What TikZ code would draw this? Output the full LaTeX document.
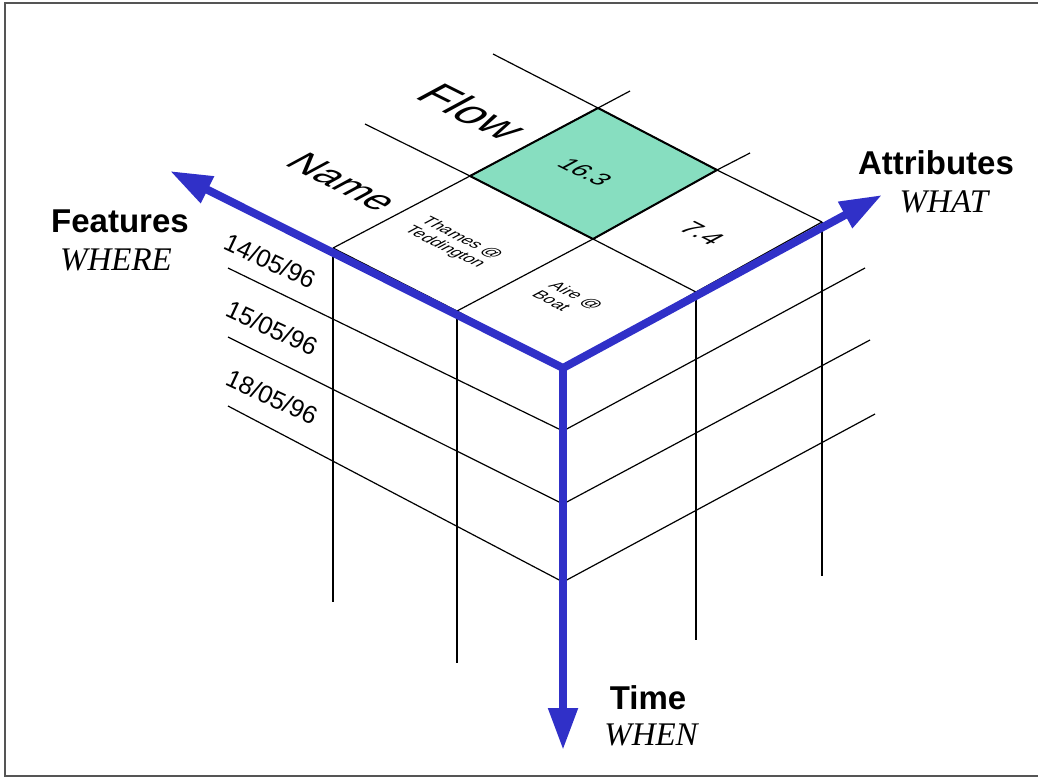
\documentclass[tikz,border=0pt]{standalone}
\usepackage{fontspec}
\setmainfont{Liberation Sans}
\newfontfamily\serifit{Liberation Serif}
\usetikzlibrary{arrows.meta}

\definecolor{axisblue}{RGB}{48,48,200}
\definecolor{cellgreen}{RGB}{135,222,192}
\definecolor{framegray}{RGB}{85,85,85}

\begin{document}
\begin{tikzpicture}[x=1pt,y=-1pt,
  axistip/.tip={Triangle[length=42pt,width=28pt]},
  grid/.style={line width=1.2pt, black},
  cellrim/.style={line width=2pt, black, line join=miter},
  axis/.style={line width=8pt, axisblue, line join=miter},
  head/.style={inner sep=0pt, font=\fontsize{33}{36}\selectfont\bfseries},
  sub/.style={inner sep=0pt, font=\fontsize{33}{36}\selectfont\serifit\itshape},
  date/.style={inner sep=0pt, rotate=-25, font=\fontsize{25}{28}\selectfont},
  plane/.style={inner sep=0pt, align=left, cm={0.894,-0.447,0.880,0.475,(0,0)}},
]
\useasboundingbox (0,0) rectangle (1038,777);

% frame
\draw[framegray, line width=2pt] (1040,3) -- (5,3) -- (5,776) -- (1040,776);

% corner of the cube and the points of the top face
\coordinate (C)   at (563,368);
\coordinate (A1)  at (457,311);
\coordinate (A2)  at (333,248);
\coordinate (B1)  at (696,292);
\coordinate (B2)  at (822,222);
\coordinate (G11) at (593,239);
\coordinate (G21) at (470,176);
\coordinate (G12) at (717,170);
\coordinate (G22) at (598,108);
\coordinate (E1)  at (750,153);
\coordinate (E2)  at (630,91);
\coordinate (F1)  at (365,124);
\coordinate (F2)  at (493,54);

% time rows on the two side faces
\coordinate (T1) at (563,431);
\coordinate (T2) at (563,504);
\coordinate (T3) at (563,582);
\coordinate (L1) at (228,268);
\coordinate (L2) at (228,337);
\coordinate (L3) at (228,406);
\coordinate (R1) at (865,268);
\coordinate (R2) at (870,340);
\coordinate (R3) at (875,414);

% ends of the axes
\coordinate (WL) at (170,171);
\coordinate (WR) at (882,195);
\coordinate (WD) at (563,750);

% shaded value cell
\fill[cellgreen] (G11) -- (G21) -- (G22) -- (G12) -- cycle;

% top face grid
\draw[grid] (A1) -- (G11) -- (G12) -- (E1);
\draw[grid] (A2) -- (G21) -- (G22) -- (E2);
\draw[grid] (B1) -- (G11) -- (G21) -- (F1);
\draw[grid] (B2) -- (G12) -- (G22) -- (F2);
\draw[grid] (C) -- (A1) -- (A2);
\draw[grid] (C) -- (B1) -- (B2);

% vertical edges
\draw[grid] (A2) -- (A2 |- 0,602);
\draw[grid] (A1) -- (A1 |- 0,663);
\draw[grid] (B1) -- (B1 |- 0,640);
\draw[grid] (B2) -- (B2 |- 0,576);

% time rows
\draw[grid] (L1) -- (T1) -- (R1);
\draw[grid] (L2) -- (T2) -- (R2);
\draw[grid] (L3) -- (T3) -- (R3);

% rim of the shaded cell
\draw[cellrim] (G11) -- (G21) -- (G22) -- (G12) -- cycle;

% texts lying in the top face
\node[plane, font=\fontsize{47}{50}\selectfont] (flow) at (473,112) {Flow};
\node[plane, font=\fontsize{40}{44}\selectfont] (name) at (343,182) {Name};
\node[plane, font=\fontsize{25}{28}\selectfont] (v163) at (585,172) {16.3};
\node[plane, font=\fontsize{27}{30}\selectfont] (v74) at (702,233) {7.4};
\node[plane, font=\fontsize{17}{19}\selectfont] (thames) at (453,243) {Thames @\\Teddington};
\node[plane, font=\fontsize{17}{19}\selectfont] (aire) at (568,300) {Aire @\\Boat};

% dates
\node[date] (d1) at (270,261) {14/05/96};
\node[date] (d2) at (272,328) {15/05/96};
\node[date] (d3) at (272,397) {18/05/96};

% axes
\draw[axis, axistip-axistip] (WL) -- (C) -- (WR);
\draw[axis, -axistip] (C) -- (WD);

% axis labels
\node[head] (feat) at (120,221) {Features};
\node[sub]  (where) at (116,260) {WHERE};
\node[head] (attr) at (936,163) {Attributes};
\node[sub]  (what) at (944,202) {WHAT};
\node[head] (time) at (648,698) {Time};
\node[sub]  (when) at (651,735) {WHEN};
\end{tikzpicture}
\end{document}
